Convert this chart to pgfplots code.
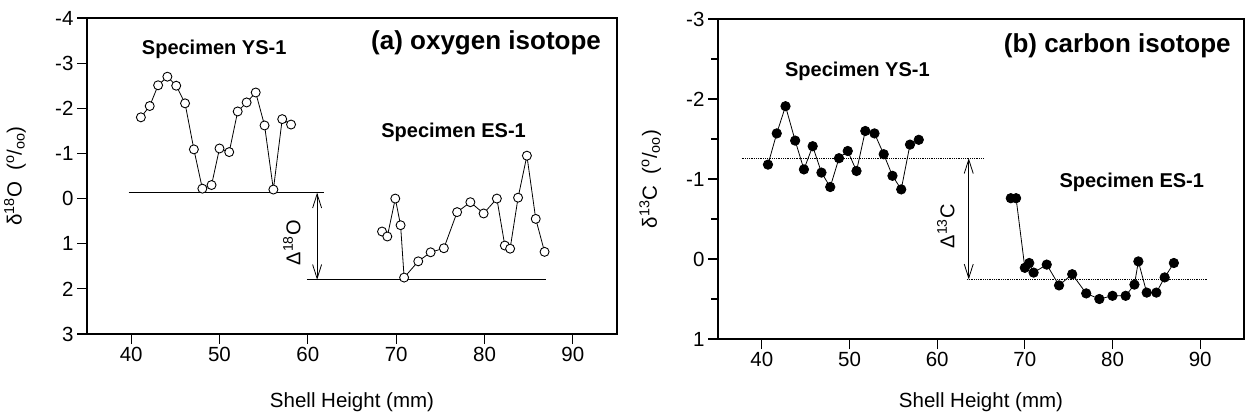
\documentclass[border=0pt]{standalone}
\usepackage{fontspec}
\setmainfont{Liberation Sans}
\usepackage{pgfplots}
\pgfplotsset{compat=1.18}
\usetikzlibrary{arrows.meta}

\pgfplotsset{
  shellaxis/.style={
    scale only axis,
    xmin=35, xmax=95,
    xtick={40,50,...,90},
    y dir=reverse,
    tick align=outside,
    xtick pos=bottom, ytick pos=left,
    major tick length=10pt, minor tick length=7pt,
    axis line style={line width=1.8pt},
    every tick/.style={black, line width=1.2pt},
    tick label style={font=\fontsize{20.5}{24}\selectfont},
    label style={font=\fontsize{20.5}{24}\selectfont},
    /pgf/number format/assume math mode=true,
    xlabel={Shell Height (mm)},
    clip=false,
  },
}
\tikzset{
  bigtitle/.style={font=\bfseries\fontsize{26}{30}\selectfont, inner sep=0pt},
  spec/.style={font=\bfseries\fontsize{20}{24}\selectfont, inner sep=0pt},
  dlabel/.style={font=\fontsize{20}{24}\selectfont, rotate=90, inner sep=0pt},
  dbl/.style={{Straight Barb[length=14pt,width=9pt]}-{Straight Barb[length=14pt,width=9pt]}, line width=0.8pt},
}

\begin{document}
\begin{tikzpicture}[x=1pt,y=1pt]
\useasboundingbox (0,0) rectangle (1247,418);

% (a) oxygen isotope
\begin{axis}[shellaxis,
  at={(87pt,84pt)}, anchor=south west,
  width=530pt, height=316pt,
  ymin=-4, ymax=3, ytick={-4,-3,...,3},
  ylabel={δ\textsuperscript{18}O\ \ (\textsuperscript{o}/\textsubscript{oo})},
  ylabel style={at={(axis description cs:-0.136,0.5)}, anchor=center},
  xlabel style={at={(axis description cs:0.5,-0.215)}, anchor=center},
]
\addplot[black, line width=0.8pt, mark=*, mark size=4.5pt,
  mark options={fill=white, draw=black, line width=0.9pt}] coordinates {
  (41.1,-1.80) (42.1,-2.05) (43.05,-2.51) (44.1,-2.70) (45.1,-2.50)
  (46.1,-2.11) (47.1,-1.09) (48.06,-0.22) (49.1,-0.30) (50.0,-1.11)
  (51.1,-1.03) (52.06,-1.93) (53.07,-2.13) (54.1,-2.35) (55.1,-1.62)
  (56.1,-0.20) (57.1,-1.76) (58.1,-1.64)
};
\addplot[black, line width=0.8pt, mark=*, mark size=4.5pt,
  mark options={fill=white, draw=black, line width=0.9pt}] coordinates {
  (68.4,0.73) (69.0,0.84) (69.9,0.00) (70.5,0.59) (70.9,1.75)
  (72.5,1.39) (73.9,1.19) (75.4,1.10) (76.9,0.30) (78.4,0.08)
  (79.9,0.33) (81.4,0.00) (82.3,1.04) (82.9,1.11) (83.8,-0.02)
  (84.8,-0.95) (85.8,0.45) (86.8,1.18)
};
\addplot[black, line width=0.9pt, no markers] coordinates {(39.7,-0.13) (61.8,-0.13)};
\addplot[black, line width=0.9pt, no markers] coordinates {(59.9,1.80) (87.0,1.80)};
\draw[dbl] (axis cs:61.05,-0.13) -- (axis cs:61.05,1.80);
\node[dlabel] at (axis cs:58.2,0.98) {Δ\textsuperscript{18}O};
\node[spec] at (axis cs:49.4,-3.31) {Specimen YS-1};
\node[spec] at (axis cs:76.5,-1.47) {Specimen ES-1};
\node[bigtitle, anchor=east] at (axis cs:93.2,-3.44) {(a) oxygen isotope};
\end{axis}

% (b) carbon isotope
\begin{axis}[shellaxis,
  at={(718pt,79pt)}, anchor=south west,
  width=526pt, height=320pt,
  ymin=-3, ymax=1, ytick={-3,-2,...,1}, minor y tick num=1,
  ylabel={δ\textsuperscript{13}C\ \ (\textsuperscript{o}/\textsubscript{oo})},
  ylabel style={at={(axis description cs:-0.129,0.5)}, anchor=center},
  xlabel style={at={(axis description cs:0.5,-0.197)}, anchor=center},
]
\addplot[black, line width=0.8pt, mark=*, mark size=4.7pt,
  mark options={fill=black}] coordinates {
  (40.7,-1.18) (41.7,-1.57) (42.7,-1.91) (43.8,-1.48) (44.8,-1.12)
  (45.8,-1.41) (46.8,-1.08) (47.8,-0.90) (48.8,-1.26) (49.8,-1.35)
  (50.8,-1.10) (51.8,-1.60) (52.85,-1.57) (53.9,-1.31) (54.9,-1.04)
  (55.9,-0.87) (56.9,-1.43) (57.9,-1.49)
};
\addplot[black, line width=0.8pt, mark=*, mark size=4.7pt,
  mark options={fill=black}] coordinates {
  (68.4,-0.76) (69.0,-0.76) (70.0,0.11) (70.5,0.05) (71.0,0.17)
  (72.5,0.07) (73.9,0.33) (75.4,0.19) (77.0,0.43) (78.5,0.50)
  (80.0,0.46) (81.5,0.46) (82.5,0.32) (82.95,0.03) (83.9,0.42)
  (85.0,0.42) (85.95,0.23) (87.0,0.05)
};
\addplot[black, line width=0.8pt, densely dotted, no markers] coordinates {(37.7,-1.26) (65.3,-1.26)};
\addplot[black, line width=0.8pt, densely dotted, no markers] coordinates {(63.4,0.255) (90.8,0.255)};
\draw[dbl] (axis cs:63.6,-1.26) -- (axis cs:63.6,0.255);
\node[dlabel] at (axis cs:61.0,-0.41) {Δ\textsuperscript{13}C};
\node[spec] at (axis cs:50.9,-2.34) {Specimen YS-1};
\node[spec] at (axis cs:82.2,-0.96) {Specimen ES-1};
\node[bigtitle, anchor=east] at (axis cs:93.5,-2.66) {(b) carbon isotope};
\end{axis}
\end{tikzpicture}
\end{document}
